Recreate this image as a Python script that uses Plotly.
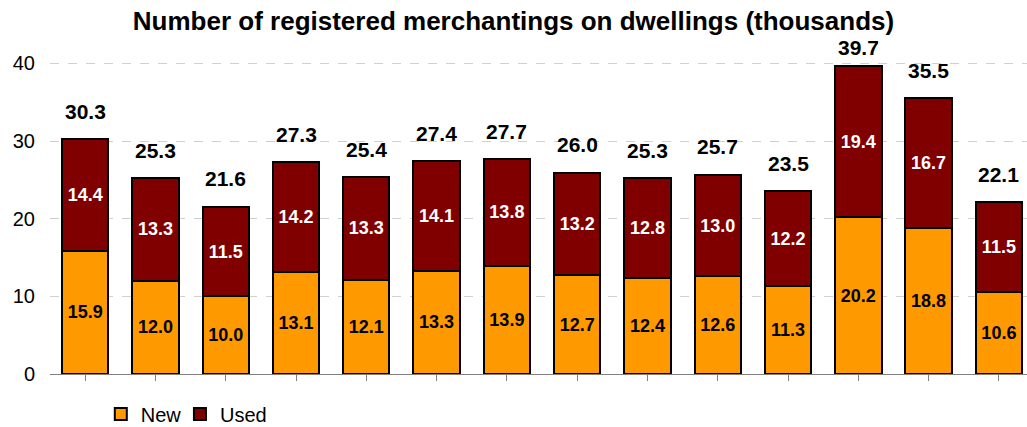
import plotly.graph_objects as go

categories = list(range(14))
new_vals = [15.9, 12.0, 10.0, 13.1, 12.1, 13.3, 13.9, 12.7, 12.4, 12.6, 11.3, 20.2, 18.8, 10.6]
used_vals = [14.4, 13.3, 11.5, 14.2, 13.3, 14.1, 13.8, 13.2, 12.8, 13.0, 12.2, 19.4, 16.7, 11.5]
totals = [30.3, 25.3, 21.6, 27.3, 25.4, 27.4, 27.7, 26.0, 25.3, 25.7, 23.5, 39.7, 35.5, 22.1]
y_ticks = [0, 10, 20, 30, 40]

FONT = "Liberation Sans, Arial, sans-serif"
W, H = 1027, 427
M_T, M_B = 61, 53
Y_MAX = 40.3
ppu = (H - M_T - M_B) / Y_MAX  # pixels per unit on the y axis

fig = go.Figure()
fig.add_trace(go.Bar(
    x=categories, y=new_vals, name="New", legend="legend",
    marker=dict(color="#FF9900", line=dict(color="black", width=2)),
    text=[f"{v:.1f}" for v in new_vals], textposition="inside",
    insidetextanchor="middle",
    textfont=dict(family=FONT, size=18, color="black", weight="bold"),
    width=0.66,
))
fig.add_trace(go.Bar(
    x=categories, y=used_vals, name="Used", legend="legend2",
    marker=dict(color="#800000", line=dict(color="black", width=2)),
    text=[f"{v:.1f}" for v in used_vals], textposition="inside",
    insidetextanchor="middle",
    textfont=dict(family=FONT, size=18, color="white", weight="bold"),
    width=0.66,
))

for c, t in zip(categories, totals):
    # keep the label below the top of the plotting area (like the original)
    shift = min(14, (Y_MAX - t) * ppu)
    fig.add_annotation(x=c, y=t, text=f"{t:.1f}", showarrow=False,
                       yanchor="bottom", yshift=shift,
                       font=dict(family=FONT, size=21, color="black", weight="bold"))

legend_common = dict(orientation="h", xanchor="left", y=-0.128, yanchor="middle",
                     font=dict(family=FONT, size=20, color="black"),
                     itemwidth=30, bgcolor="rgba(0,0,0,0)")

fig.update_layout(
    barmode="stack",
    width=W, height=H,
    margin=dict(l=50, r=0, t=M_T, b=M_B, autoexpand=False),
    plot_bgcolor="white", paper_bgcolor="white",
    uniformtext=dict(mode=False),
    title=dict(text="<b>Number of registered merchantings on dwellings (thousands)</b>",
               x=0.5, xanchor="center", y=0.952, yanchor="middle",
               font=dict(family=FONT, size=26, color="black")),
    font=dict(family=FONT, color="black"),
    showlegend=True,
    legend=dict(x=0.052, **legend_common),
    legend2=dict(x=0.133, **legend_common),
    xaxis=dict(range=[-0.5, 13.4], tickmode="array", tickvals=categories,
               ticktext=["" for _ in categories], tickson="boundaries",
               ticks="outside", ticklen=6, tickcolor="#808080",
               showline=True, linecolor="#808080", linewidth=1,
               showgrid=False, zeroline=False),
    yaxis=dict(range=[0, Y_MAX], tickvals=y_ticks, showgrid=True,
               gridcolor="#D0D0D0", griddash="dash", gridwidth=1,
               zeroline=False, showline=False, ticks="",
               tickfont=dict(family=FONT, size=20, color="black"),
               ticklabelstandoff=14),
)

fig.write_html("out.html", config={"displayModeBar": False},
               post_script="document.body.style.margin='0';document.body.style.overflow='hidden';")
